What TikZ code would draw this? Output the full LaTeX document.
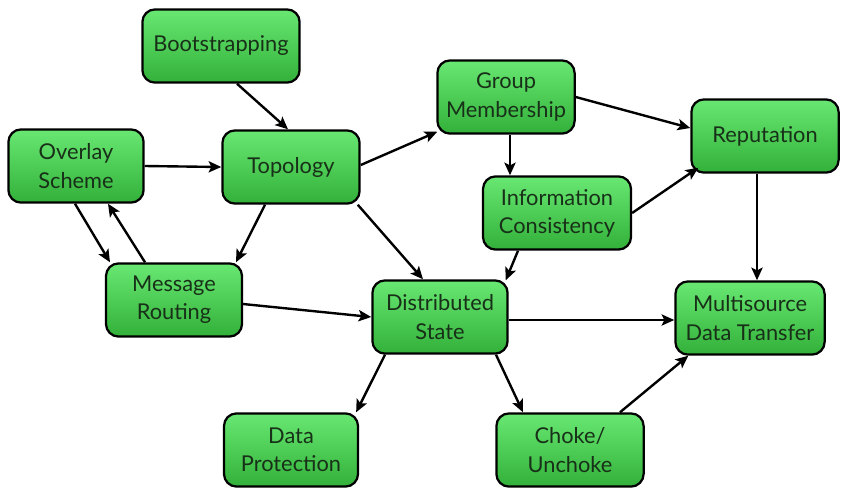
\documentclass[tikz,border=0pt]{standalone}
\usepackage{fontspec}
\setmainfont{Lato}
\usepackage{xcolor}
\definecolor{boxtop}{RGB}{104,232,114}
\definecolor{boxbottom}{RGB}{50,176,58}
\definecolor{boxtext}{RGB}{24,48,24}
\usetikzlibrary{arrows.meta,positioning,calc}

\begin{document}
\begin{tikzpicture}[x=0.025cm,y=-0.025cm,
    topicbox/.style={rectangle, rounded corners=9pt, minimum height=1.83cm,
      draw=black, line width=1.6pt, top color=boxtop, bottom color=boxbottom,
      text=boxtext, align=center, font=\fontsize{15.5}{20}\selectfont},
    link/.style={-{Stealth[length=9pt,width=8pt,inset=2pt]}, line width=1.7pt}
  ]
    \useasboundingbox (0,0) rectangle (848,496);

    % Topic boxes
    \node[topicbox, minimum width=3.93cm] (boot)  at (221,46)  {Bootstrapping};
    \node[topicbox, minimum width=3.38cm] (over)  at (76,166)  {Overlay\\Scheme};
    \node[topicbox, minimum width=3.43cm] (topo)  at (291,167) {Topology};
    \node[topicbox, minimum width=3.43cm] (group) at (506,97)  {Group\\Membership};
    \node[topicbox, minimum width=3.68cm] (rep)   at (765,136) {Reputation};
    \node[topicbox, minimum width=3.70cm] (info)  at (557,213) {Information\\Consistency};
    \node[topicbox, minimum width=3.40cm] (msg)   at (174,300) {Message\\Routing};
    \node[topicbox, minimum width=3.38cm] (dist)  at (440,317) {Distributed\\State};
    \node[topicbox, minimum width=3.73cm] (multi) at (750,318) {Multisource\\Data Transfer};
    \node[topicbox, minimum width=3.35cm] (data)  at (291,450) {Data\\Protection};
    \node[topicbox, minimum width=3.68cm] (choke) at (570,450) {Choke/\\Unchoke};

    % Dependencies
    \draw[link] ($(boot.south)+(16,0)$) -- ($(topo.north)+(-3,0)$);
    \draw[link] (over.east) -- (topo.west);
    \draw[link] ($(over.south)+(-1,0)$) -- ($(msg.north)+(-64,0)$);
    \draw[link] ($(msg.north)+(-29,0)$) -- ($(over.south)+(32,0)$);
    \draw[link] ($(topo.south)+(-26,0)$) -- ($(msg.north)+(62,0)$);
    \draw[link] ($(topo.east)+(0,-2)$) -- ($(group.south west)+(1,-3)$);
    \draw[link] ($(topo.south east)+(-3,0)$) -- ($(dist.north)+(-17,0)$);
    \draw[link] ($(msg.east)+(0,4)$) -- (dist.west);
    \draw[link] ($(group.south)+(4,0)$) -- ($(info.north)+(-47,0)$);
    \draw[link] (group.east) -- ($(rep.west)+(0,-8)$);
    \draw[link] (info.east) -- ($(rep.south west)+(8,-6)$);
    \draw[link] ($(info.south)+(-39,0)$) -- ($(dist.north east)+(-3,1)$);
    \draw[link] ($(rep.south)+(-8,0)$) -- ($(multi.north)+(7,0)$);
    \draw[link] ($(dist.east)+(0,3)$) -- ($(multi.west)+(0,2)$);
    \draw[link] ($(dist.south)+(-55,0)$) -- ($(data.north east)+(-3,0)$);
    \draw[link] ($(dist.south)+(56,0)$) -- ($(choke.north)+(-47,0)$);
    \draw[link] ($(choke.north)+(50,0)$) -- ($(multi.south west)+(14,0)$);
  \end{tikzpicture}
\end{document}
